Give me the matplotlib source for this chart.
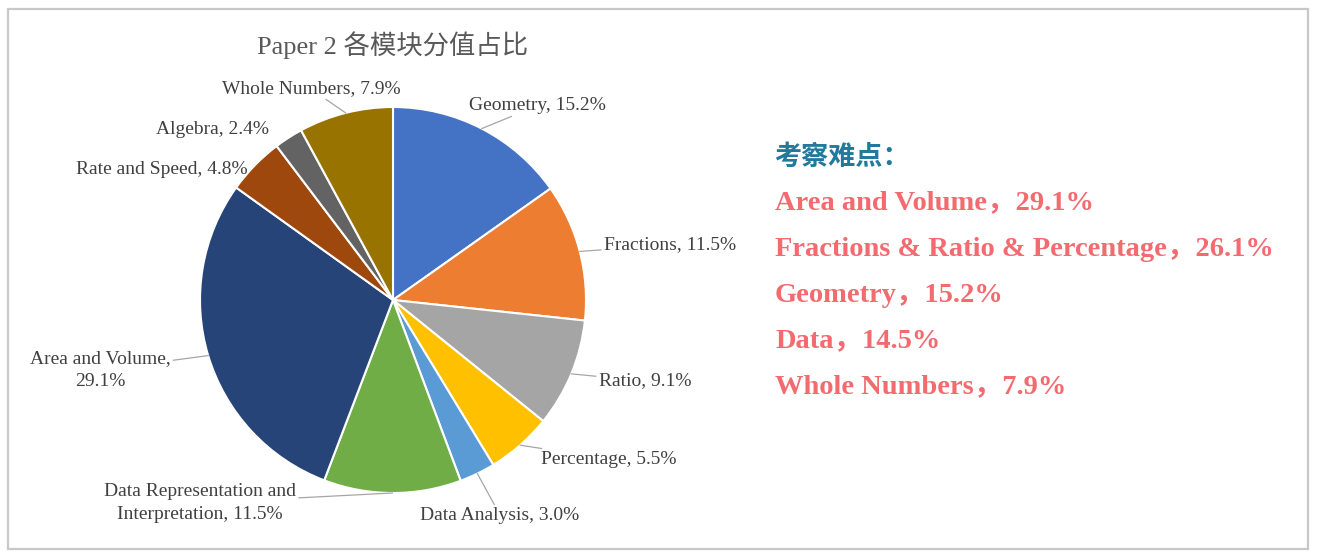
import numpy as np
import matplotlib
matplotlib.use('Agg')
import matplotlib.pyplot as plt
from matplotlib.patches import Rectangle

# data
categories = ['Geometry', 'Fractions', 'Ratio', 'Percentage', 'Data Analysis',
              'Data Representation and\nInterpretation', 'Area and Volume',
              'Rate and Speed', 'Algebra', 'Whole Numbers']
shares = [15.2, 11.5, 9.1, 5.5, 3.0, 11.5, 29.1, 4.8, 2.4, 7.9]
colors = ['#4472C4', '#ED7D31', '#A5A5A5', '#FFC000', '#5B9BD5',
          '#70AD47', '#264478', '#9E480E', '#636363', '#997300']

highlight_title = '考察难点：'
highlight_items = ['Area and Volume，29.1%',
                   'Fractions & Ratio & Percentage，26.1%',
                   'Geometry，15.2%',
                   'Data，14.5%',
                   'Whole Numbers，7.9%']

# layout (pixel coords, y up)
W, H = 1322, 560
pie_center = (393, 260)
pie_radius = 193
label_pos = [(537, 454), (670, 315), (645, 179), (609, 101), (500, 45),
             (200, 57), (100, 190), (162, 390), (213, 430), (311, 471)]
no_leader = {'Rate and Speed', 'Algebra'}

serif = ['Liberation Serif', 'Noto Sans CJK SC']

fig = plt.figure(figsize=(W / 100, H / 100), dpi=100)
ax = fig.add_axes([0, 0, 1, 1])

wedges, _ = ax.pie(shares, colors=colors, startangle=90, counterclock=False,
                   center=pie_center, radius=pie_radius, frame=True,
                   wedgeprops=dict(edgecolor='white', linewidth=1.5))
ax.set_xlim(0, W)
ax.set_ylim(0, H)
ax.set_aspect('equal')
ax.axis('off')

ax.add_patch(Rectangle((8, 11), 1300, 540, fill=False, ec='#C8C8C8', lw=1.6))

labels = []
for cat, val, pos in zip(categories, shares, label_pos):
    if cat == 'Area and Volume':
        txt = f'{cat},\n{val:.1f}%'
    else:
        txt = f'{cat}, {val:.1f}%'
    t = ax.text(pos[0], pos[1], txt, ha='center', va='center',
                multialignment='center', fontsize=14, color='#404040',
                family=serif, linespacing=1.45)
    labels.append(t)

# leader lines: from wedge edge to the label's box
fig.canvas.draw()
renderer = fig.canvas.get_renderer()
inv = ax.transData.inverted()
for w, t, cat in zip(wedges, labels, categories):
    if cat in no_leader:
        continue
    mid = np.deg2rad((w.theta1 + w.theta2) / 2)
    ex = pie_center[0] + pie_radius * np.cos(mid)
    ey = pie_center[1] + pie_radius * np.sin(mid)
    bb = t.get_window_extent(renderer).transformed(inv)
    x0, x1 = bb.x0 - 3, bb.x1 + 3
    y0, y1 = bb.y0 - 2, bb.y1 + 2
    cx, cy = (x0 + x1) / 2, (y0 + y1) / 2
    dx, dy = ex - cx, ey - cy
    s = min(abs((x1 - cx) / dx) if dx else np.inf,
            abs((y1 - cy) / dy) if dy else np.inf)
    ax.plot([cx + dx * s, ex], [cy + dy * s, ey], color='#A6A6A6', lw=0.9)

ax.text(393, 515, 'Paper 2 各模块分值占比', ha='center', va='center',
        fontsize=19, color='#595959', family=serif)

ax.text(774, 403, highlight_title, ha='left', va='center', fontsize=19.5,
        fontweight='bold', color='#21799B', family=['Noto Sans CJK SC'])
for i, line in enumerate(highlight_items):
    ax.text(775, 357 - 46 * i, line, ha='left', va='center', fontsize=20.5,
            fontweight='bold', color='#F36A6F', family=serif)

fig.savefig('out.png', dpi=100, facecolor='white')
plt.close(fig)
